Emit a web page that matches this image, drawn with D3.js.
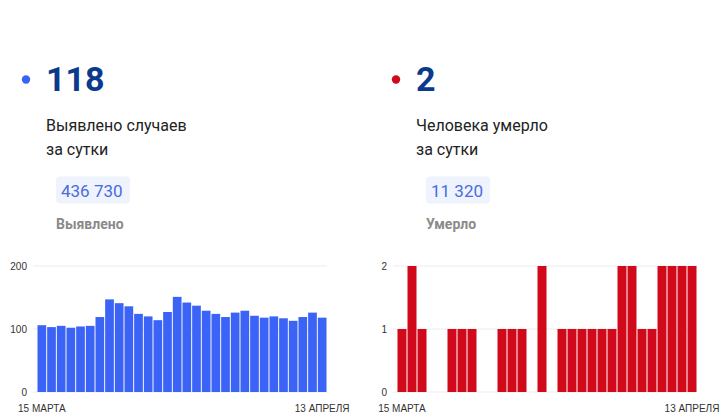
<!DOCTYPE html>
<html>
<head>
<meta charset="utf-8">
<script src="https://d3js.org/d3.v7.min.js"></script>
<style>
  body { margin: 0; background: #fff; }
  svg text { font-family: Roboto, "Noto Sans", sans-serif; }
  .tick-lbl { font-family: "Liberation Sans", Arial, sans-serif; font-size: 10px; fill: #333; }
  .date-lbl { font-family: "Liberation Sans", Arial, sans-serif; font-size: 10px; fill: #333; }
</style>
</head>
<body>
<script>
// days: 15 March .. 13 April
var days = d3.range(30);
var dateLabels = ["15 МАРТА", "13 АПРЕЛЯ"];

// new cases per day
var casesData = [106, 103, 105, 102, 104, 105, 119, 147, 141, 136,
                 124, 120, 114, 127, 151, 142, 137, 129, 124, 119,
                 126, 129, 121, 118, 120, 117, 113, 119, 126, 118];
// deaths per day
var deathsData = [1, 2, 1, 0, 0, 1, 1, 1, 0, 0,
                  1, 1, 1, 0, 2, 0, 1, 1, 1, 1,
                  1, 1, 2, 2, 1, 1, 2, 2, 2, 2];

var casesTicks = [0, 100, 200];
var deathsTicks = [0, 1, 2];

var panels = [
  { x0: 0, dot: "#3b63f3", big: "118", line1: "Выявлено случаев", line2: "за сутки",
    total: "436 730", totalLbl: "Выявлено", pillW: 74,
    data: casesData, ticks: casesTicks, max: 200, color: "#3b63f6",
    barL: 37.5, barR: 326.5, gridL: 33, gridR: 327 },
  { x0: 370, dot: "#d0091b", big: "2", line1: "Человека умерло", line2: "за сутки",
    total: "11 320", totalLbl: "Умерло", pillW: 64,
    data: deathsData, ticks: deathsTicks, max: 2, color: "#d0091b",
    barL: 397.5, barR: 696.5, gridL: 393, gridR: 697 }
];

var svg = d3.select("body").append("svg")
    .attr("width", 722)
    .attr("height", 415);

panels.forEach(function (p) {
  var g = svg.append("g");

  // header
  g.append("circle").attr("cx", p.x0 + 26).attr("cy", 79.5).attr("r", 4.2).attr("fill", p.dot);
  g.append("text").attr("x", p.x0 + 46).attr("y", 91)
    .style("font-size", "34px").style("font-weight", "bold").attr("fill", "#0b3a8c")
    .text(p.big);
  g.append("text").attr("x", p.x0 + 46).attr("y", 131)
    .style("font-size", "16px").attr("fill", "#222").text(p.line1);
  g.append("text").attr("x", p.x0 + 46).attr("y", 154.5)
    .style("font-size", "16px").attr("fill", "#222").text(p.line2);

  // total pill
  g.append("rect").attr("x", p.x0 + 56).attr("y", 176.5).attr("width", p.pillW).attr("height", 27)
    .attr("rx", 4).attr("fill", "#eef3fd");
  g.append("text").attr("x", p.x0 + 61).attr("y", 197)
    .style("font-size", "17px").attr("fill", "#4a6cdc").text(p.total);
  g.append("text").attr("x", p.x0 + 56).attr("y", 228.5)
    .style("font-size", "14px").style("font-weight", "bold").attr("fill", "#8a8a8a")
    .text(p.totalLbl);

  // bar chart
  var x = d3.scaleBand().domain(days).range([p.barL, p.barR]).paddingInner(0.1);
  var y = d3.scaleLinear().domain([0, p.max]).range([392, 266]);

  g.selectAll(".grid").data(p.ticks).enter().append("line")
    .attr("x1", p.gridL).attr("x2", p.gridR)
    .attr("y1", function (d) { return y(d); }).attr("y2", function (d) { return y(d); })
    .attr("stroke", "#ececec").attr("stroke-width", 1);

  g.selectAll(".tl").data(p.ticks).enter().append("text")
    .attr("class", "tick-lbl")
    .attr("x", p.gridL - 6).attr("y", function (d) { return y(d) + 3.5; })
    .attr("text-anchor", "end")
    .text(function (d) { return d; });

  g.selectAll(".bar").data(p.data).enter().append("rect")
    .attr("x", function (d, i) { return x(i); })
    .attr("width", x.bandwidth())
    .attr("y", function (d) { return y(d); })
    .attr("height", function (d) { return 392 - y(d); })
    .attr("fill", p.color);

  g.append("text").attr("class", "date-lbl")
    .attr("x", x(0) + x.bandwidth() / 2).attr("y", 412).attr("text-anchor", "middle")
    .text(dateLabels[0]);
  g.append("text").attr("class", "date-lbl")
    .attr("x", x(days.length - 1) + x.bandwidth() / 2).attr("y", 412).attr("text-anchor", "middle")
    .text(dateLabels[1]);
});
</script>
</body>
</html>
